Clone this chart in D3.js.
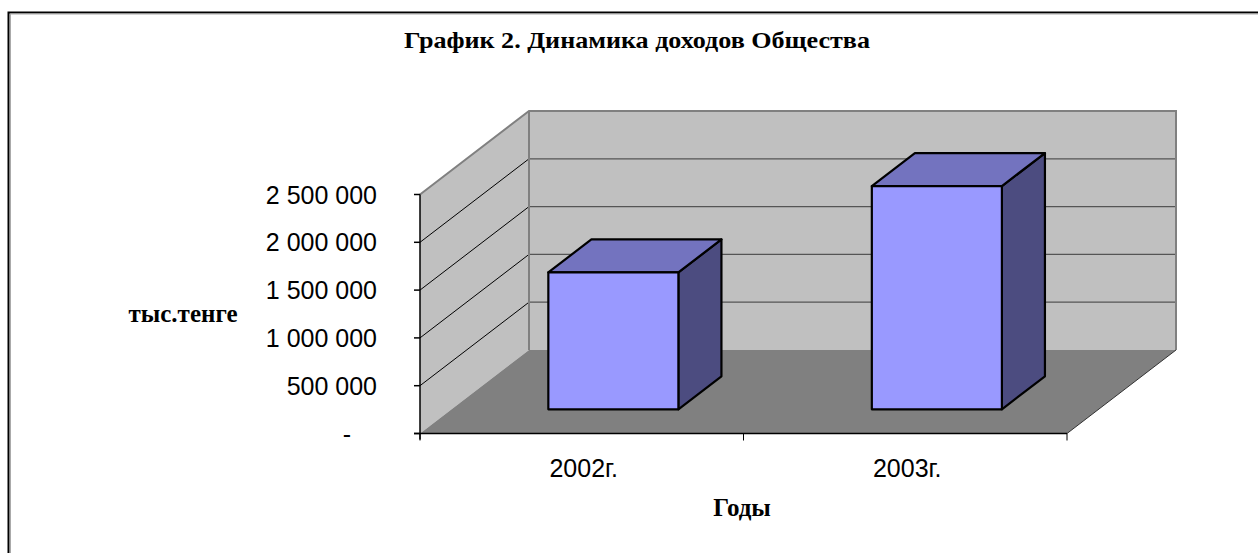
<!DOCTYPE html>
<html>
<head>
<meta charset="utf-8">
<script src="https://cdn.jsdelivr.net/npm/d3@7/dist/d3.min.js"></script>
<style>
  html, body { margin: 0; padding: 0; background: #fff; }
  svg { display: block; }
</style>
</head>
<body>
<svg id="chart" width="1258" height="553"></svg>
<script>
const title = "График 2. Динамика доходов Общества";
const yAxisTitle = "тыс.тенге";
const xAxisTitle = "Годы";
const categories = ["2002г.", "2003г."];
const values = [1432000, 2335000];
const yTicks = [0, 500000, 1000000, 1500000, 2000000, 2500000];
const yTickLabels = ["-", "500 000", "1 000 000", "1 500 000", "2 000 000", "2 500 000"];

const svg = d3.select("#chart");
const ox = 420, oy = 433.5, W = 647, H = 239, DX = 109, DY = 83.5;
const x = d3.scaleBand().domain(categories).range([0, W]);
const y = d3.scaleLinear().domain([0, 2500000]).range([0, H]);
const proj = (cx, v, d) => [ox + cx + d * DX, oy - y(v) - d * DY];
const poly = pts => "M" + pts.map(p => p.join(",")).join("L") + "Z";
const line = pts => "M" + pts.map(p => p.join(",")).join("L");

svg.append("rect").attr("width", 1258).attr("height", 553).attr("fill", "#fff");

// border
svg.append("path").attr("d", "M8.5,553V12.5H1258").attr("fill", "none").attr("stroke", "#000").attr("stroke-width", 2);
svg.append("path").attr("d", "M10.5,553V14H1258").attr("fill", "none").attr("stroke", "#aaa").attr("stroke-width", 1);

const vmax = y.domain()[1];
// back wall
svg.append("path").attr("d", poly([proj(0, 0, 1), proj(W, 0, 1), proj(W, vmax, 1), proj(0, vmax, 1)]))
  .attr("fill", "#c0c0c0");
// side wall
svg.append("path").attr("d", poly([proj(0, 0, 0), proj(0, vmax, 0), proj(0, vmax, 1), proj(0, 0, 1)]))
  .attr("fill", "#c0c0c0");
// floor
svg.append("path").attr("d", poly([proj(0, 0, 0), proj(W, 0, 0), proj(W, 0, 1), proj(0, 0, 1)]))
  .attr("fill", "#808080");

// gridlines
yTicks.filter(v => v > 0 && v < vmax).forEach(v => {
  svg.append("path").attr("d", line([proj(0, v, 1), proj(W, v, 1)]))
    .attr("stroke", "#555").attr("stroke-width", 1.3).attr("fill", "none");
  svg.append("path").attr("d", line([proj(0, v, 0), proj(0, v, 1)]))
    .attr("stroke", "#000").attr("stroke-width", 1).attr("fill", "none");
});

// wall edges
svg.append("path").attr("d", line([proj(0, vmax, 0), proj(0, vmax, 1), proj(W, vmax, 1), proj(W, 0, 1)]))
  .attr("stroke", "#808080").attr("stroke-width", 2).attr("fill", "none");
svg.append("path").attr("d", line([proj(0, vmax, 1), proj(0, 0, 1)]))
  .attr("stroke", "#808080").attr("stroke-width", 2).attr("fill", "none");
svg.append("path").attr("d", line([proj(W, 0, 0), proj(W, 0, 1)]))
  .attr("stroke", "#333").attr("stroke-width", 1).attr("fill", "none");

// y axis
svg.append("path").attr("d", line([[ox, oy - H], [ox, oy + 6]]))
  .attr("stroke", "#000").attr("stroke-width", 1.5).attr("fill", "none");
yTicks.forEach((v, i) => {
  const yy = oy - y(v);
  svg.append("path").attr("d", line([[ox - 6, yy], [ox, yy]]))
    .attr("stroke", "#000").attr("stroke-width", 1.5);
  svg.append("text").attr("x", v === 0 ? 351 : 377).attr("y", yy).attr("dy", "0.36em")
    .attr("text-anchor", "end").attr("font-family", "Liberation Sans, Arial, sans-serif")
    .attr("font-size", 25).attr("fill", "#000").text(yTickLabels[i]);
});

// x axis
svg.append("path").attr("d", line([[ox - 6, oy], [ox + W, oy]]))
  .attr("stroke", "#000").attr("stroke-width", 1.5).attr("fill", "none");
[0, ...categories.map(c => x(c) + x.bandwidth())].forEach(cx => {
  svg.append("path").attr("d", line([[ox + cx, oy], [ox + cx, oy + 7]]))
    .attr("stroke", "#000").attr("stroke-width", 1);
});
categories.forEach(c => {
  svg.append("text").attr("x", ox + x(c) + x.bandwidth() / 2 + 2).attr("y", oy + 43)
    .attr("text-anchor", "middle").attr("font-family", "Liberation Sans, Arial, sans-serif")
    .attr("font-size", 25).attr("fill", "#000").text(c);
});

// bars
const d0 = 0.29, d1 = 0.685, bw = x.bandwidth() * 0.402;
categories.forEach((c, i) => {
  const v = values[i];
  const cx0 = x(c) + x.bandwidth() / 2 - bw / 2, cx1 = cx0 + bw;
  const g = svg.append("g").attr("stroke", "#000").attr("stroke-width", 2.2).attr("stroke-linejoin", "round");
  g.append("path").attr("d", poly([proj(cx1, 0, d0), proj(cx1, 0, d1), proj(cx1, v, d1), proj(cx1, v, d0)]))
    .attr("fill", "#4c4c80");
  g.append("path").attr("d", poly([proj(cx0, v, d0), proj(cx1, v, d0), proj(cx1, v, d1), proj(cx0, v, d1)]))
    .attr("fill", "#7373bf");
  g.append("path").attr("d", poly([proj(cx0, 0, d0), proj(cx1, 0, d0), proj(cx1, v, d0), proj(cx0, v, d0)]))
    .attr("fill", "#9999ff");
});

// titles
svg.append("text").attr("x", 637).attr("y", 48).attr("text-anchor", "middle")
  .attr("font-family", "Liberation Serif, Times New Roman, serif").attr("font-weight", "bold")
  .attr("font-size", 24).attr("textLength", 466).attr("lengthAdjust", "spacingAndGlyphs")
  .attr("fill", "#000").text(title);
svg.append("text").attr("x", 183).attr("y", 322).attr("text-anchor", "middle")
  .attr("font-family", "Liberation Serif, Times New Roman, serif").attr("font-weight", "bold")
  .attr("font-size", 25).attr("fill", "#000").text(yAxisTitle);
svg.append("text").attr("x", 742).attr("y", 516).attr("text-anchor", "middle")
  .attr("font-family", "Liberation Serif, Times New Roman, serif").attr("font-weight", "bold")
  .attr("font-size", 25).attr("fill", "#000").text(xAxisTitle);
</script>
</body>
</html>
